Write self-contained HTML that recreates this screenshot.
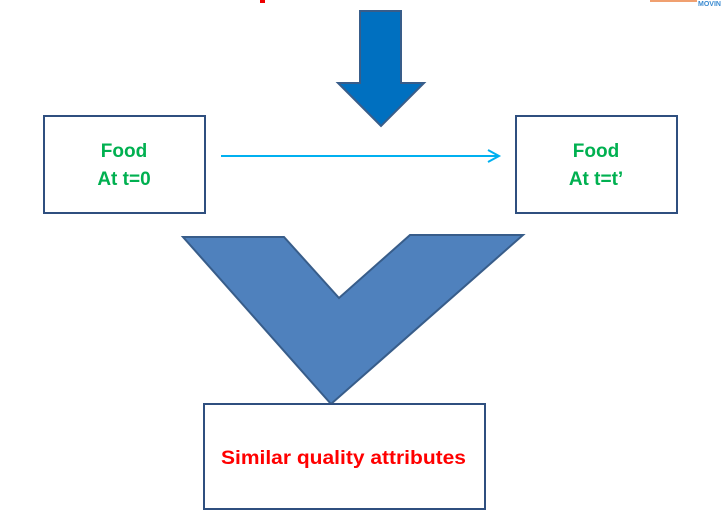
<!DOCTYPE html>
<html><head><meta charset="utf-8"><style>
body{margin:0;width:725px;height:524px;background:#fff;overflow:hidden;font-family:"Liberation Sans",sans-serif}
</style></head><body>
<svg width="725" height="524" xmlns="http://www.w3.org/2000/svg">
<rect x="260" y="0" width="5" height="3" fill="#e00"/>
<line x1="650" y1="1" x2="697" y2="1" stroke="#f0a070" stroke-width="2"/>
<text x="698" y="6" font-size="7" fill="#3a8ad0" font-weight="bold">MOVIN</text>
<polygon points="360,11 401,11 401,83 424,83 381,126 338,83 360,83" fill="#0070c0" stroke="#385d8a" stroke-width="2"/>
<rect x="44" y="116" width="161" height="97" fill="#fff" stroke="#2f4f7f" stroke-width="2"/>
<rect x="516" y="116" width="161" height="97" fill="#fff" stroke="#2f4f7f" stroke-width="2"/>
<text x="124" y="157" text-anchor="middle" font-size="19" font-weight="bold" fill="#00b050">Food</text>
<text x="124" y="185" text-anchor="middle" font-size="19" font-weight="bold" fill="#00b050">At t=0</text>
<text x="596" y="157" text-anchor="middle" font-size="19" font-weight="bold" fill="#00b050">Food</text>
<text x="596" y="185" text-anchor="middle" font-size="19" font-weight="bold" fill="#00b050">At t=t’</text>
<line x1="221" y1="156" x2="498" y2="156" stroke="#00b0f0" stroke-width="2"/>
<polyline points="488,150 499,156 488,162" fill="none" stroke="#00b0f0" stroke-width="2"/>
<polygon points="183,237 284,237 339,298 410,235 523,235 331,404" fill="#4f81bd" stroke="#385d8a" stroke-width="2"/>
<rect x="204" y="404" width="281" height="105" fill="#fff" stroke="#2f4f7f" stroke-width="2"/>
<text x="221" y="464" font-size="19" font-weight="bold" fill="#f00" textLength="245" lengthAdjust="spacingAndGlyphs">Similar quality attributes</text>
</svg>
</body></html>
